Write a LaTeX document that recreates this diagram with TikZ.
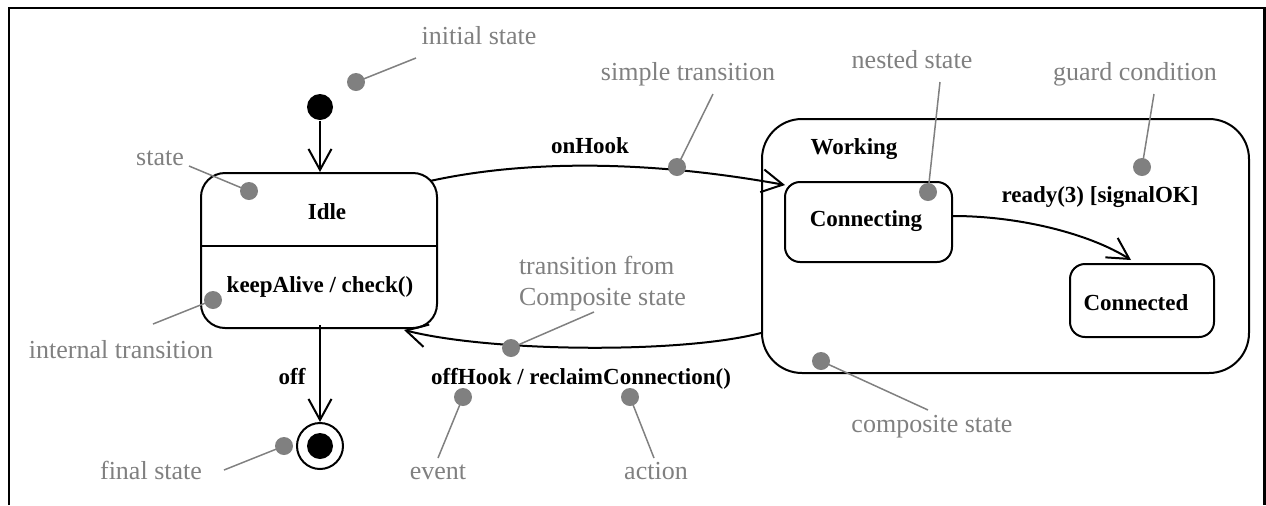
\documentclass[tikz,border=0pt]{standalone}
\usepackage{fontspec}
\setmainfont{Liberation Serif}
\usetikzlibrary{arrows.meta}
\definecolor{notegray}{RGB}{128,128,128}
\begin{document}
\begin{tikzpicture}[x=0.5pt,y=-0.5pt,
  line width=1pt,
  box/.style={draw, line width=1pt, rectangle, inner sep=0pt},
  tr/.style={draw, line width=1pt, -{Straight Barb[length=10.5pt,width=11.5pt]}},
  lbl/.style={font=\fontsize{11.5}{13}\selectfont\bfseries, anchor=base, inner sep=0pt},
  note/.style={font=\fontsize{13}{15.5}\selectfont, text=notegray, anchor=base, inner sep=0pt},
  lead/.style={draw=notegray, line width=0.75pt},
  gdot/.style={circle, fill=notegray, inner sep=0pt, minimum size=9pt},
]
\useasboundingbox (0,0) rectangle (1266,505);
% frame
\draw[line width=1.25pt] (9,505) -- (9,8) -- (1264.5,8) -- (1264.5,505);

% states
\node[box, rounded corners=12pt, minimum width=118pt, minimum height=77.5pt] (idle) at (319,250.5) {};
\coordinate (divy) at (0,246);
\draw (idle.west |- divy) -- (idle.east |- divy);
\node[box, rounded corners=20pt, minimum width=243.5pt, minimum height=127pt] (working) at (1005.5,246) {};
\node[box, rounded corners=7.5pt, minimum width=83.5pt, minimum height=40pt] (connecting) at (868.5,222) {};
\node[box, rounded corners=7.5pt, minimum width=72pt, minimum height=36.5pt] (connected) at (1142,300.5) {};
\node[circle, fill=black, minimum size=13pt, inner sep=0pt] (init) at (320,107) {};
\node[circle, draw, line width=1pt, minimum size=23pt, inner sep=0pt] (final) at (320,446) {};
\node[circle, fill=black, minimum size=13pt, inner sep=0pt] (finaldot) at (final.center) {};

% state texts
\node[lbl] (tidle) at (327,219) {Idle};
\node[lbl] (tkeep) at (320,292) {keepAlive / check()};
\node[lbl] (twork) at (854,154) {Working};
\node[lbl] (tconing) at (866,226) {Connecting};
\node[lbl] (tconed) at (1136,310) {Connected};

% transitions
\draw[tr] (init.south) -- (init |- idle.north);
\draw[tr] ([yshift=2pt]final |- idle.south) -- (final.north);
\draw[tr] ([shift={(-8,9)}]idle.north east) .. controls (525,160) and (648,160) .. ([shift={(1,4)}]connecting.north west);
\draw[tr] ([shift={(0,-41)}]working.south west) .. controls (680,354) and (490,352) .. ([shift={(-34,1)}]idle.south east);
\draw[tr] ([shift={(0,-6)}]connecting.east) .. controls (1020,216) and (1090,234) .. ([shift={(-11,-3)}]connected.north);

% transition labels
\node[lbl] (toff) at (292,384) {off};
\node[lbl] (tonhook) at (590,153) {onHook};
\node[lbl] (toffhook) at (581,384) {offHook / reclaimConnection()};
\node[lbl] (tready) at (1100,202) {ready(3) [signalOK]};

% notes
\node[note] (ninit) at (479,44) {initial state};
\node[note] (nsimple) at (688,80) {simple transition};
\node[note] (nnested) at (912,68) {nested state};
\node[note] (nguard) at (1135,80) {guard condition};
\node[note] (nstate) at (160,165) {state};
\node[note] (ninternal) at (121,358) {internal transition};
\node[note, align=left, anchor=north west] (ncomp) at (518,255) {transition from\\Composite state};
\node[note] (nevent) at (438,479) {event};
\node[note] (naction) at (656,479) {action};
\node[note] (nfinal) at (151,479) {final state};
\node[note] (ncompos) at (932,432) {composite state};

% leader end points
\coordinate (einit) at (416,58);
\coordinate (esimple) at (713,94);
\coordinate (enested) at (940,82);
\coordinate (eguard) at (1154,94);
\coordinate (estate) at (189,166);
\coordinate (einternal) at (153,324);
\coordinate (ecomp) at (594,312);
\coordinate (eevent) at (438,458);
\coordinate (eaction) at (654,458);
\coordinate (efinal) at (224,470);
\coordinate (ecompos) at (928,410);

% dots
\node[gdot] (dinit) at (356,82) {};
\node[gdot] (dsimple) at (677,167) {};
\node[gdot] (dnested) at (928,192) {};
\node[gdot] (dguard) at (1142,167) {};
\node[gdot] (dstate) at (249,191) {};
\node[gdot] (dinternal) at (213,300) {};
\node[gdot] (dcomp) at (511,348) {};
\node[gdot] (devent) at (463,397) {};
\node[gdot] (daction) at (630,397) {};
\node[gdot] (dfinal) at (284,446) {};
\node[gdot] (dcompos) at (821,361) {};

\begin{scope}[on background layer/.style={}]
\draw[lead] (dinit.center) -- (einit);
\draw[lead] (dsimple.center) -- (esimple);
\draw[lead] (dnested.center) -- (enested);
\draw[lead] (dguard.center) -- (eguard);
\draw[lead] (dstate.center) -- (estate);
\draw[lead] (dinternal.center) -- (einternal);
\draw[lead] (dcomp.center) -- (ecomp);
\draw[lead] (devent.center) -- (eevent);
\draw[lead] (daction.center) -- (eaction);
\draw[lead] (dfinal.center) -- (efinal);
\draw[lead] (dcompos.center) -- (ecompos);
\end{scope}
\end{tikzpicture}
\end{document}
